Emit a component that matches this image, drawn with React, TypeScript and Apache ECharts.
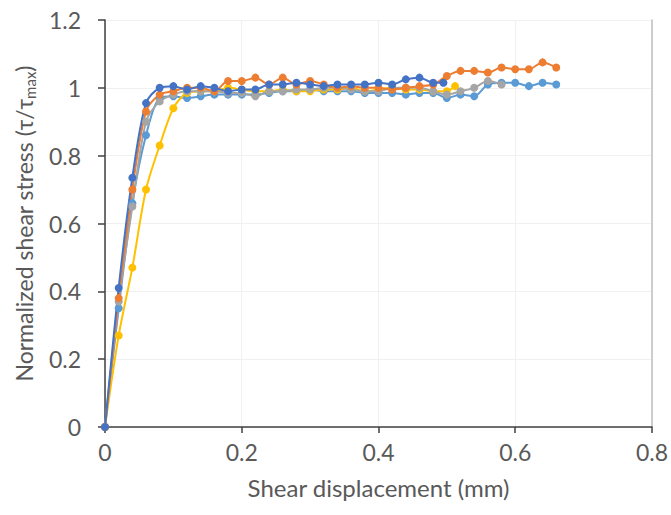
import React, { useEffect, useRef } from "react";
import * as echarts from "echarts";

const xDark = [0, 0.02, 0.04, 0.06, 0.08, 0.1, 0.12, 0.14, 0.16, 0.18, 0.2, 0.22, 0.24, 0.26, 0.28, 0.3, 0.32, 0.34, 0.36, 0.38, 0.4, 0.42, 0.44, 0.46, 0.48, 0.495];
const yDark = [0, 0.41, 0.735, 0.955, 1.0, 1.005, 0.995, 1.005, 1.0, 0.99, 0.995, 0.995, 1.01, 1.01, 1.015, 1.01, 1.005, 1.01, 1.01, 1.01, 1.015, 1.01, 1.025, 1.03, 1.015, 1.015];

const xOrange = [0, 0.02, 0.04, 0.06, 0.08, 0.1, 0.12, 0.14, 0.16, 0.18, 0.2, 0.22, 0.24, 0.26, 0.28, 0.3, 0.32, 0.34, 0.36, 0.38, 0.4, 0.42, 0.44, 0.46, 0.48, 0.5, 0.52, 0.54, 0.56, 0.58, 0.6, 0.62, 0.64, 0.66];
const yOrange = [0, 0.38, 0.7, 0.93, 0.98, 0.99, 1.0, 1.0, 0.99, 1.02, 1.02, 1.03, 1.01, 1.03, 1.01, 1.02, 1.01, 1.0, 1.005, 1.0, 1.0, 0.995, 1.0, 1.005, 1.01, 1.035, 1.05, 1.05, 1.045, 1.06, 1.055, 1.055, 1.075, 1.06];

const xGray = [0, 0.02, 0.04, 0.06, 0.08, 0.1, 0.12, 0.14, 0.16, 0.18, 0.2, 0.22, 0.24, 0.26, 0.28, 0.3, 0.32, 0.34, 0.36, 0.38, 0.4, 0.42, 0.44, 0.46, 0.48, 0.5, 0.52, 0.54, 0.56, 0.58];
const yGray = [0, 0.37, 0.65, 0.9, 0.96, 0.98, 0.99, 0.99, 0.99, 0.985, 0.985, 0.975, 0.99, 0.99, 0.995, 0.995, 1.0, 1.0, 0.995, 0.99, 0.99, 1.0, 1.0, 1.0, 0.99, 0.98, 0.99, 1.0, 1.02, 1.01];

const xYellow = [0, 0.02, 0.04, 0.06, 0.08, 0.1, 0.12, 0.14, 0.16, 0.18, 0.2, 0.22, 0.24, 0.26, 0.28, 0.3, 0.32, 0.34, 0.36, 0.38, 0.4, 0.42, 0.44, 0.46, 0.48, 0.5, 0.512];
const yYellow = [0, 0.27, 0.47, 0.7, 0.83, 0.94, 0.985, 0.99, 0.99, 1.0, 0.995, 0.99, 0.99, 0.995, 0.99, 0.99, 0.995, 0.995, 1.0, 0.99, 0.995, 1.0, 0.995, 0.995, 0.99, 0.99, 1.005];

const xLight = [0, 0.02, 0.04, 0.06, 0.08, 0.1, 0.12, 0.14, 0.16, 0.18, 0.2, 0.22, 0.24, 0.26, 0.28, 0.3, 0.32, 0.34, 0.36, 0.38, 0.4, 0.42, 0.44, 0.46, 0.48, 0.5, 0.52, 0.54, 0.56, 0.58, 0.6, 0.62, 0.64, 0.66];
const yLight = [0, 0.35, 0.66, 0.86, 0.97, 0.975, 0.97, 0.975, 0.98, 0.98, 0.98, 0.98, 0.985, 0.99, 0.99, 0.995, 0.99, 0.99, 0.99, 0.985, 0.985, 0.985, 0.98, 0.985, 0.985, 0.97, 0.98, 0.975, 1.01, 1.015, 1.015, 1.005, 1.015, 1.01];

const xTicks = [0, 0.2, 0.4, 0.6, 0.8];
const yTicks = [0, 0.2, 0.4, 0.6, 0.8, 1.0, 1.2];

const seriesDefs = [
  { name: "S5", xs: xLight, ys: yLight, color: "#5B9BD5" },
  { name: "S4", xs: xYellow, ys: yYellow, color: "#FFC000" },
  { name: "S3", xs: xGray, ys: yGray, color: "#A5A5A5" },
  { name: "S2", xs: xOrange, ys: yOrange, color: "#ED7D31" },
  { name: "S1", xs: xDark, ys: yDark, color: "#4472C4" },
];

const FONT = "Lato, 'Noto Sans', sans-serif";

export default function App() {
  const ref = useRef<HTMLDivElement>(null);
  useEffect(() => {
    if (!ref.current) return;
    const chart = echarts.init(ref.current, undefined, { renderer: "svg" });
    chart.setOption({
      animation: false,
      backgroundColor: "#ffffff",
      grid: { left: 105, right: 19, top: 20, bottom: 88 },
      xAxis: {
        type: "value",
        min: xTicks[0],
        max: xTicks[xTicks.length - 1],
        interval: 0.2,
        name: "Shear displacement (mm)",
        nameLocation: "middle",
        nameGap: 48,
        nameTextStyle: { fontFamily: FONT, fontSize: 24, color: "#595959" },
        axisLine: { show: true, lineStyle: { color: "#404040", width: 1.5 } },
        axisTick: { show: true, inside: false, length: 6, lineStyle: { color: "#404040", width: 1.5 } },
        axisLabel: { fontFamily: FONT, fontSize: 23, color: "#595959", margin: 13 },
        splitLine: { show: true, lineStyle: { color: "#f0f0f0", width: 1 } },
      },
      yAxis: [
        {
          type: "value",
          min: yTicks[0],
          max: yTicks[yTicks.length - 1],
          interval: 0.2,
          name: "Normalized shear stress (τ/τ{sub|max})",
          nameLocation: "middle",
          nameGap: 56,
          nameRotate: 90,
          nameTextStyle: {
            fontFamily: FONT,
            fontSize: 23,
            color: "#595959",
            rich: { sub: { fontFamily: FONT, fontSize: 15, color: "#595959", verticalAlign: "bottom", padding: [12, 0, 0, 0] } },
          },
          axisLine: { show: true, lineStyle: { color: "#404040", width: 1.5 } },
          axisTick: { show: true, inside: false, length: 7, lineStyle: { color: "#404040", width: 1.5 } },
          axisLabel: { fontFamily: FONT, fontSize: 23, color: "#595959", margin: 24 },
          splitLine: { show: true, lineStyle: { color: "#f0f0f0", width: 1 } },
        },
        {
          type: "value",
          position: "right",
          min: yTicks[0],
          max: yTicks[yTicks.length - 1],
          interval: 0.2,
          axisLine: { show: true, lineStyle: { color: "#bfbfbf", width: 1.5 } },
          axisTick: { show: false },
          axisLabel: { show: false },
          splitLine: { show: false },
        },
      ],
      series: seriesDefs.map((s) => ({
        name: s.name,
        type: "line",
        yAxisIndex: 0,
        smooth: 0.3,
        data: s.xs.map((x, i) => [x, s.ys[i]]),
        symbol: "circle",
        symbolSize: 8,
        showSymbol: true,
        lineStyle: { color: s.color, width: 2 },
        itemStyle: { color: s.color },
        clip: false,
      })),
    });
    return () => chart.dispose();
  }, []);
  return (
    <div style={{ position: "absolute", left: 0, top: 0, width: 671, height: 515, background: "#fff" }}>
      <div ref={ref} style={{ width: 671, height: 515 }} />
    </div>
  );
}
